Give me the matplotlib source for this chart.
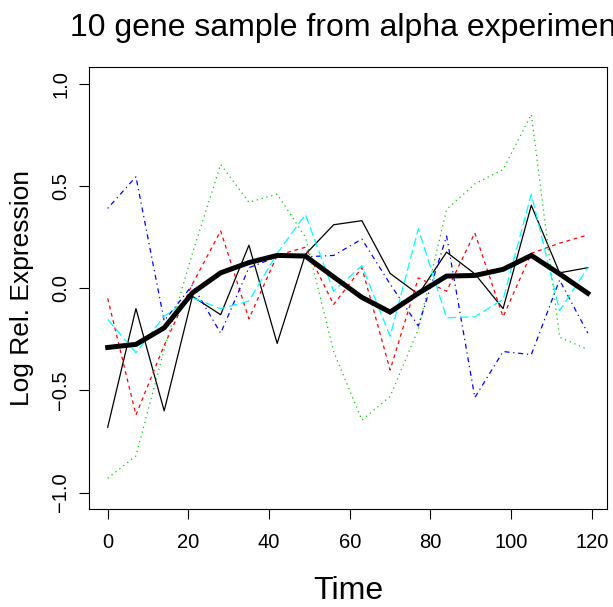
"""10 gene sample from alpha experiment: log relative expression over time.

Run:    python plot.py
Output: out.png
"""

import matplotlib
matplotlib.use("Agg")
import matplotlib.pyplot as plt

plt.rcParams["font.family"] = ["Liberation Sans", "DejaVu Sans"]

# sampling times (minutes)
times = [0, 7, 14, 21, 28, 35, 42, 49, 56, 63, 70, 77, 84, 91, 98, 105, 112, 119]

# one series per plotted gene
gene_black = [-0.68, -0.10, -0.60, -0.04, -0.13, 0.21, -0.27, 0.165, 0.31,
              0.33, 0.072, -0.03, 0.176, 0.07, -0.10, 0.405, 0.075, 0.10]
gene_red = [-0.05, -0.62, -0.28, 0.02, 0.28, -0.15, 0.16, 0.20, -0.08,
            0.10, -0.40, 0.05, -0.015, 0.27, -0.14, 0.17, 0.22, 0.26]
gene_green = [-0.93, -0.82, -0.30, 0.17, 0.605, 0.42, 0.46, 0.25, -0.31,
              -0.645, -0.53, -0.20, 0.385, 0.51, 0.58, 0.85, -0.24, -0.30]
gene_blue = [0.39, 0.545, -0.16, 0.015, -0.22, 0.10, 0.153, 0.153, 0.16,
             0.24, 0.02, -0.185, 0.255, -0.535, -0.31, -0.325, 0.04, -0.22]
gene_cyan = [-0.153, -0.316, -0.137, -0.047, -0.10, -0.063, 0.17, 0.36, -0.015,
             0.11, -0.235, 0.29, -0.145, -0.14, -0.055, 0.46, -0.11, 0.10]

# average profile (thick line)
mean_profile = [-0.29, -0.275, -0.194, -0.023, 0.075, 0.125, 0.16, 0.157, 0.055,
                -0.045, -0.117, -0.025, 0.059, 0.062, 0.092, 0.16, 0.07, -0.025]

x_ticks = [0, 20, 40, 60, 80, 100, 120]
y_ticks = [-1.0, -0.5, 0.0, 0.5, 1.0]
y_tick_labels = ["\u22121.0", "\u22120.5", "0.0", "0.5", "1.0"]

W, H = 613, 607
fig = plt.figure(figsize=(W / 100, H / 100), dpi=100)
ax = fig.add_axes([88.5 / W, 1 - 509 / H, (607 - 88.5) / W, (509 - 67.3) / H])

# R matplot styles: solid, dashed, dotted, dotdash, longdash
styles = [
    (gene_black, "black", "-"),
    (gene_red, "#FF0000", (0, (3, 3))),
    (gene_green, "#00CD00", (0, (1, 3))),
    (gene_blue, "#0000FF", (0, (1, 3, 4, 3))),
    (gene_cyan, "#00FFFF", (0, (7, 3))),
]
for values, color, ls in styles:
    ax.plot(times, values, color=color, linestyle=ls, linewidth=0.9)

ax.plot(times, mean_profile, color="black", linewidth=3.6, solid_joinstyle="miter")

ax.set_xlim(-4.76, 123.76)
ax.set_ylim(-1.08, 1.08)
ax.set_xticks(x_ticks)
ax.set_xticklabels([str(t) for t in x_ticks])
ax.set_yticks(y_ticks)
ax.set_yticklabels(y_tick_labels, rotation=90, va="center")
ax.tick_params(axis="both", length=7.2, width=0.8, labelsize=14.5, direction="out")
ax.tick_params(axis="x", pad=10)
ax.tick_params(axis="y", pad=6)
for side in ax.spines.values():
    side.set_linewidth(0.8)

fig.text(348 / W, 1 - 28 / H, "10 gene sample from alpha experiment",
         ha="center", va="center", fontsize=23)
fig.text(348 / W, 1 - 591 / H, "Time", ha="center", va="center", fontsize=23)
fig.text(22 / W, 1 - 288 / H, "Log Rel. Expression", ha="center", va="center",
         rotation=90, fontsize=19)

fig.savefig("out.png", dpi=100)
